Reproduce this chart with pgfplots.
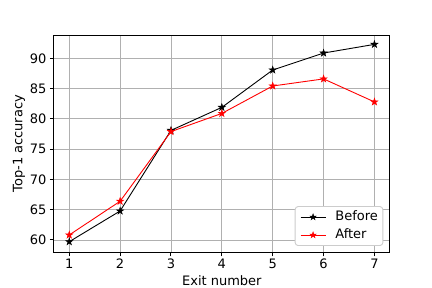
\documentclass[border=0pt]{standalone}
\usepackage{fontspec}
\setmainfont{DejaVu Sans}
\usepackage{pgfplots}
\pgfplotsset{compat=1.18}
\pgfdeclareplotmark{fstar}{%
  \pgfpathmoveto{\pgfpointpolar{90}{\pgfplotmarksize}}%
  \pgfpathlineto{\pgfpointpolar{126}{0.382\pgfplotmarksize}}%
  \pgfpathlineto{\pgfpointpolar{162}{\pgfplotmarksize}}%
  \pgfpathlineto{\pgfpointpolar{198}{0.382\pgfplotmarksize}}%
  \pgfpathlineto{\pgfpointpolar{234}{\pgfplotmarksize}}%
  \pgfpathlineto{\pgfpointpolar{270}{0.382\pgfplotmarksize}}%
  \pgfpathlineto{\pgfpointpolar{306}{\pgfplotmarksize}}%
  \pgfpathlineto{\pgfpointpolar{342}{0.382\pgfplotmarksize}}%
  \pgfpathlineto{\pgfpointpolar{18}{\pgfplotmarksize}}%
  \pgfpathlineto{\pgfpointpolar{54}{0.382\pgfplotmarksize}}%
  \pgfpathclose
  \pgfusepathqfillstroke}
\begin{document}
\begin{tikzpicture}
\useasboundingbox (0,0) rectangle (432pt,288pt);
\begin{axis}[
  at={(54pt,35.7pt)}, anchor=south west,
  scale only axis, width=335.7pt, height=217pt,
  xmin=0.7, xmax=7.3, ymin=57.97, ymax=93.8,
  xtick={1,2,3,4,5,6,7}, ytick={60,65,70,75,80,85,90},
  grid=major, grid style={color=black!31, line width=0.9pt},
  axis line style={line width=1pt},
  tick style={black, line width=1pt},
  tick align=outside, major tick length=4pt,
  xtick pos=bottom, ytick pos=left,
  /pgf/number format/assume math mode=true,
  tick label style={font=\fontsize{13}{15.6}\selectfont},
  xticklabel style={yshift=0.6pt},
  label style={font=\fontsize{13}{15.6}\selectfont},
  xlabel={Exit number}, ylabel={Top-1 accuracy},
  xlabel style={at={(axis description cs:0.5,-0.1553)}, anchor=base, inner sep=0pt},
  ylabel style={at={(axis description cs:-0.123,0.5)}, anchor=north, inner sep=0pt, rotate=0},
  legend style={at={(rel axis cs:1,0)}, anchor=south east, xshift=-6.4pt, yshift=6.3pt,
    draw=black!20, rounded corners=3pt, font=\fontsize{13}{15.6}\selectfont,
    nodes={inner sep=0pt, text height=9.5pt, text depth=3.5pt},
    row sep=5pt, column sep=9.3pt, inner xsep=5pt, inner ysep=4pt, line width=0.9pt},
  legend cell align=left,
  legend image code/.code={\draw[#1] (0pt,0pt) -- (25pt,0pt); \draw[#1,mark repeat=1,mark size=3.2pt] plot coordinates {(12.5pt,0pt)};},
]
\addplot[black, line width=0.9pt, mark=fstar, mark size=3.7pt, mark options={line width=0.5pt}] coordinates {
(1,59.72) (2,64.79) (3,78.1) (4,81.9) (5,88.07) (6,90.87) (7,92.3)};
\addlegendentry{Before}
\addplot[red, line width=0.9pt, mark=fstar, mark size=3.7pt, mark options={line width=0.5pt}] coordinates {
(1,60.83) (2,66.4) (3,77.9) (4,80.9) (5,85.43) (6,86.6) (7,82.8)};
\addlegendentry{After}
\end{axis}
\end{tikzpicture}
\end{document}
